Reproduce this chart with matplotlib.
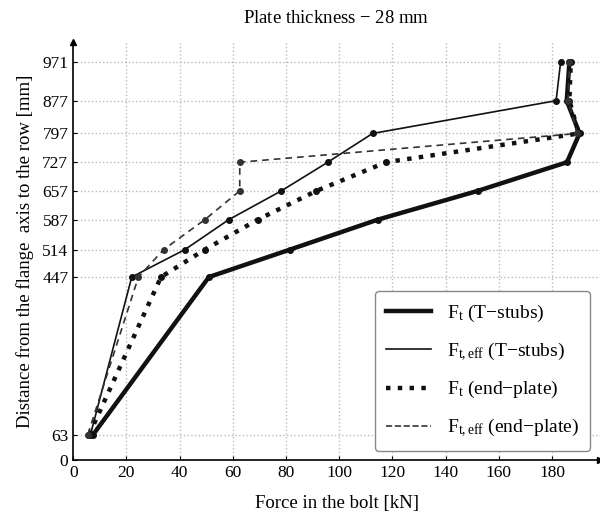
import numpy as np
import matplotlib
matplotlib.use("Agg")
import matplotlib.pyplot as plt

plt.rcParams['font.family'] = ['Liberation Serif', 'DejaVu Serif']
plt.rcParams['mathtext.fontset'] = 'custom'
plt.rcParams['mathtext.rm'] = 'Liberation Serif'
plt.rcParams['mathtext.it'] = 'Liberation Serif:italic'

# distance of each bolt row from the flange axis [mm]
rows = [63, 447, 514, 587, 657, 727, 797, 877, 971]

# force in the bolt [kN]
ft_tstub = [7.5, 51, 81.5, 114.5, 152, 185.6, 190.3, 185.5, 186.5]
fteff_tstub = [6.5, 22, 42, 58.5, 78.2, 95.7, 112.5, 181.5, 183.2]
ft_endplate = [6, 33, 49.5, 69.4, 91.4, 117.6, 190, 186.5, 187]
fteff_endplate = [5.5, 24.5, 34, 49.5, 62.6, 62.6, 189.5, 186, 186.5]

xticks = [0, 20, 40, 60, 80, 100, 120, 140, 160, 180]

fig = plt.figure(figsize=(6, 5.19), dpi=100)
ax = fig.add_axes([0.122, 0.113, 0.878, 0.806])

col = '#111111'
ax.plot(ft_tstub, rows, '-', color=col, lw=3.2, marker='o', ms=4,
        label=r'F$_{\rm t}$ (T$-$stubs)')
ax.plot(fteff_tstub, rows, '-', color=col, lw=1.2, marker='o', ms=4,
        label=r'F$_{\rm t,eff}$ (T$-$stubs)')
ax.plot(ft_endplate, rows, ':', color=col, lw=3.2, marker='o', ms=4,
        label=r'F$_{\rm t}$ (end$-$plate)')
ax.plot(fteff_endplate, rows, '--', color='#333333', lw=1.2, marker='o', ms=4,
        dashes=(4, 3), label=r'F$_{\rm t,eff}$ (end$-$plate)')

ax.set_xlim(0, 198)
ax.set_ylim(0, 1020)
ax.set_xticks(xticks)
ax.set_yticks([0] + rows)
ax.tick_params(labelsize=12.5, length=3, direction='in')

for x in xticks[1:]:
    ax.axvline(x, color='#bbbbbb', ls=':', lw=1, zorder=0)
for y in rows:
    ax.axhline(y, color='#bbbbbb', ls=':', lw=1, zorder=0)

ax.spines['top'].set_visible(False)
ax.spines['right'].set_visible(False)
ax.spines['left'].set_linewidth(1.2)
ax.spines['bottom'].set_linewidth(1.2)
ax.plot(0, 1, '^', color='k', ms=4, transform=ax.transAxes, clip_on=False)
ax.plot(1, 0, '>', color='k', ms=4, transform=ax.transAxes, clip_on=False)

ax.set_title('Plate thickness $-$ 28 mm', fontsize=13.5, pad=14)
ax.set_xlabel('Force in the bolt [kN]', fontsize=13.5, labelpad=10)
ax.set_ylabel('Distance from the flange  axis to the row [mm]', fontsize=13.5,
              labelpad=6)

handles, labels = ax.get_legend_handles_labels()
proxies = [plt.Line2D([], [], color=h.get_color(), lw=h.get_linewidth(),
                      ls=h.get_linestyle()) for h in handles]
ax.legend(handles=proxies, labels=labels, loc='lower right', fontsize=14,
          fancybox=True, framealpha=1, edgecolor='#888888', handlelength=2.3,
          labelspacing=0.85, borderpad=0.6, bbox_to_anchor=(1.0, 0.0))

fig.savefig('out.png', dpi=100)
